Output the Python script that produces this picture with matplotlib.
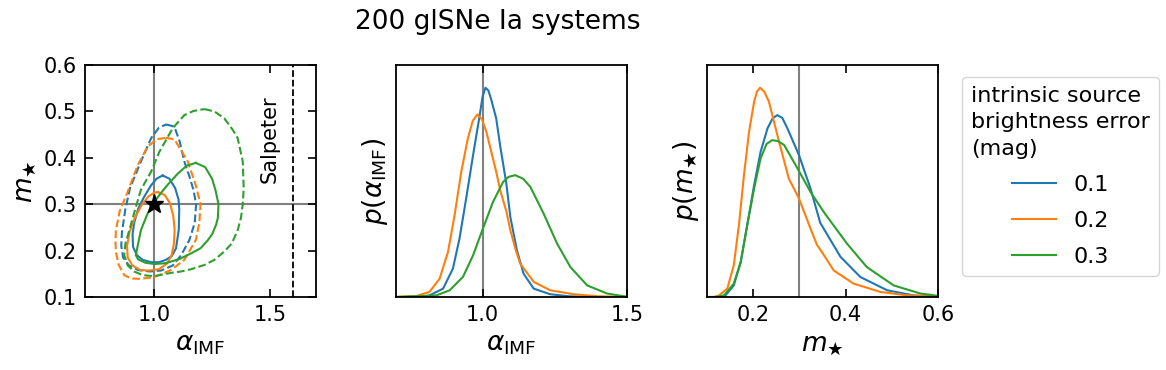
import matplotlib
matplotlib.use("Agg")
import matplotlib.pyplot as plt

# legend / series
errors = ['0.1', '0.2', '0.3']
colors = ['#1f77b4', '#ff7f0e', '#2ca02c']

# true values and Salpeter
alpha_true = 1.0
mstar_true = 0.3
alpha_salpeter = 1.6

# left panel: 68% (solid) and 95% (dashed) contours
blue_in_a = [1.036, 1.065, 1.09, 1.105, 1.108, 1.106, 1.094, 1.075, 1.05, 1.02, 0.986, 0.95, 0.925, 0.908, 0.906, 0.913, 0.93, 0.955, 0.985, 1.01, 1.036]
blue_in_m = [0.362, 0.355, 0.335, 0.31, 0.29, 0.245, 0.205, 0.188, 0.18, 0.175, 0.175, 0.18, 0.19, 0.208, 0.235, 0.26, 0.29, 0.315, 0.34, 0.355, 0.362]
blue_out_a = [1.052, 1.087, 1.11, 1.13, 1.152, 1.17, 1.181, 1.175, 1.152, 1.116, 1.08, 1.03, 0.98, 0.93, 0.89, 0.865, 0.857, 0.86, 0.875, 0.895, 0.942, 0.986, 1.02, 1.052]
blue_out_m = [0.472, 0.467, 0.435, 0.392, 0.36, 0.33, 0.30, 0.26, 0.223, 0.19, 0.168, 0.157, 0.155, 0.158, 0.168, 0.185, 0.21, 0.24, 0.29, 0.335, 0.392, 0.442, 0.465, 0.472]

orange_in_a = [1.015, 1.045, 1.068, 1.082, 1.088, 1.085, 1.075, 1.055, 1.02, 0.98, 0.94, 0.905, 0.885, 0.882, 0.893, 0.915, 0.945, 0.975, 1.0, 1.015]
orange_in_m = [0.326, 0.32, 0.302, 0.275, 0.245, 0.215, 0.19, 0.172, 0.16, 0.157, 0.158, 0.168, 0.185, 0.21, 0.24, 0.27, 0.298, 0.317, 0.325, 0.326]
orange_out_a = [1.05, 1.087, 1.145, 1.18, 1.2, 1.195, 1.18, 1.13, 1.072, 1.0, 0.94, 0.9, 0.87, 0.845, 0.833, 0.832, 0.834, 0.85, 0.885, 0.928, 0.971, 1.01, 1.05]
orange_out_m = [0.443, 0.44, 0.392, 0.34, 0.30, 0.26, 0.223, 0.18, 0.158, 0.143, 0.139, 0.14, 0.147, 0.17, 0.2, 0.223, 0.244, 0.285, 0.327, 0.384, 0.424, 0.44, 0.443]

green_in_a = [1.18, 1.22, 1.25, 1.265, 1.278, 1.275, 1.267, 1.25, 1.231, 1.2, 1.159, 1.11, 1.05, 1.0, 0.96, 0.93, 0.92, 0.93, 0.942, 0.971, 1.0, 1.03, 1.058, 1.1, 1.14, 1.18]
green_in_m = [0.389, 0.38, 0.355, 0.33, 0.30, 0.27, 0.255, 0.235, 0.222, 0.205, 0.194, 0.182, 0.173, 0.171, 0.174, 0.181, 0.19, 0.215, 0.244, 0.28, 0.305, 0.325, 0.342, 0.365, 0.383, 0.389]
green_out_a = [1.217, 1.26, 1.303, 1.34, 1.361, 1.383, 1.387, 1.383, 1.375, 1.361, 1.335, 1.303, 1.26, 1.217, 1.16, 1.116, 1.072, 1.0, 0.95, 0.913, 0.885, 0.87, 0.875, 0.892, 0.915, 0.942, 0.986, 1.022, 1.08, 1.13, 1.17, 1.217]
green_out_m = [0.505, 0.5, 0.485, 0.46, 0.442, 0.392, 0.334, 0.30, 0.27, 0.244, 0.215, 0.198, 0.18, 0.169, 0.16, 0.155, 0.152, 0.145, 0.147, 0.155, 0.168, 0.19, 0.215, 0.244, 0.285, 0.331, 0.37, 0.413, 0.464, 0.492, 0.501, 0.505]

# middle panel: marginal p(alpha_IMF), height as fraction of the axes
blue_alpha_x = [0.70, 0.80, 0.816, 0.863, 0.897, 0.920, 0.943, 0.967, 0.990, 1.000, 1.010, 1.020, 1.030, 1.047, 1.061, 1.082, 1.096, 1.111, 1.119, 1.142, 1.177, 1.234, 1.30, 1.40, 1.50]
blue_alpha_p = [0.0, 0.002, 0.007, 0.036, 0.122, 0.252, 0.425, 0.612, 0.784, 0.865, 0.902, 0.89, 0.85, 0.77, 0.65, 0.49, 0.345, 0.25, 0.2, 0.1, 0.036, 0.012, 0.003, 0.0, 0.0]
orange_alpha_x = [0.70, 0.77, 0.816, 0.851, 0.880, 0.903, 0.926, 0.949, 0.966, 0.982, 0.998, 1.013, 1.047, 1.061, 1.082, 1.096, 1.114, 1.13, 1.177, 1.234, 1.315, 1.40, 1.50]
orange_alpha_p = [0.0, 0.004, 0.022, 0.079, 0.194, 0.353, 0.54, 0.684, 0.76, 0.787, 0.765, 0.712, 0.54, 0.46, 0.37, 0.288, 0.205, 0.144, 0.065, 0.029, 0.012, 0.003, 0.0]
green_alpha_x = [0.70, 0.84, 0.886, 0.932, 0.967, 1.001, 1.036, 1.071, 1.09, 1.113, 1.14, 1.165, 1.211, 1.258, 1.304, 1.362, 1.431, 1.49, 1.50]
green_alpha_p = [0.0, 0.007, 0.029, 0.087, 0.18, 0.295, 0.41, 0.496, 0.518, 0.525, 0.51, 0.475, 0.36, 0.23, 0.129, 0.05, 0.015, 0.003, 0.002]

# right panel: marginal p(m_star)
blue_m_x = [0.10, 0.125, 0.140, 0.158, 0.173, 0.187, 0.202, 0.216, 0.231, 0.242, 0.252, 0.263, 0.274, 0.299, 0.324, 0.345, 0.389, 0.432, 0.49, 0.547, 0.60]
blue_m_p = [0.0, 0.0, 0.007, 0.05, 0.151, 0.309, 0.482, 0.626, 0.727, 0.77, 0.784, 0.772, 0.727, 0.612, 0.468, 0.32, 0.173, 0.086, 0.029, 0.007, 0.002]
orange_m_x = [0.10, 0.115, 0.126, 0.144, 0.158, 0.169, 0.180, 0.191, 0.202, 0.208, 0.215, 0.224, 0.234, 0.256, 0.277, 0.299, 0.324, 0.338, 0.35, 0.374, 0.417, 0.475, 0.533, 0.60]
orange_m_p = [0.0, 0.0, 0.007, 0.036, 0.137, 0.309, 0.525, 0.712, 0.842, 0.885, 0.902, 0.885, 0.842, 0.669, 0.511, 0.425, 0.295, 0.225, 0.19, 0.115, 0.058, 0.022, 0.007, 0.001]
green_m_x = [0.10, 0.12, 0.137, 0.158, 0.173, 0.187, 0.202, 0.216, 0.229, 0.241, 0.254, 0.267, 0.296, 0.324, 0.355, 0.403, 0.446, 0.504, 0.562, 0.60]
green_m_p = [0.0, 0.0, 0.007, 0.058, 0.151, 0.309, 0.468, 0.597, 0.66, 0.676, 0.672, 0.655, 0.554, 0.453, 0.36, 0.23, 0.129, 0.05, 0.015, 0.005]

contours = [(blue_in_a, blue_in_m, blue_out_a, blue_out_m),
            (orange_in_a, orange_in_m, orange_out_a, orange_out_m),
            (green_in_a, green_in_m, green_out_a, green_out_m)]
alpha_pdfs = [(blue_alpha_x, blue_alpha_p), (orange_alpha_x, orange_alpha_p), (green_alpha_x, green_alpha_p)]
m_pdfs = [(blue_m_x, blue_m_p), (orange_m_x, orange_m_p), (green_m_x, green_m_p)]

fig = plt.figure(figsize=(11.66, 3.70), dpi=100)
W, H = 1166, 370
def box(x0, x1, y0, y1):
    return [x0 / W, 1 - y1 / H, (x1 - x0) / W, (y1 - y0) / H]

ax1 = fig.add_axes(box(85, 316, 65, 297))
ax2 = fig.add_axes(box(396, 627, 65, 297))
ax3 = fig.add_axes(box(707, 938, 65, 297))

for ax in (ax1, ax2, ax3):
    ax.tick_params(direction='in', top=True, right=True, length=6, width=1.2, labelsize=15, pad=6)
    for s in ax.spines.values():
        s.set_linewidth(1.3)

mlab = r'$m_\bigstar$'

# left: joint constraints
ax1.axvline(alpha_true, color='grey', lw=1.5, zorder=1)
ax1.axhline(mstar_true, color='grey', lw=1.5, zorder=1)
for (ia, im, oa, om), c in zip(contours, colors):
    ax1.plot(ia, im, color=c, lw=1.5)
    ax1.plot(oa, om, color=c, lw=1.5, ls='--')
ax1.plot(alpha_true, mstar_true, marker='*', color='k', ms=14, zorder=5)
ax1.axvline(alpha_salpeter, color='k', lw=1.3, ls='--')
ax1.text(1.5, 0.44, 'Salpeter', rotation=90, ha='center', va='center', fontsize=15)
ax1.set_xlim(0.7, 1.7)
ax1.set_ylim(0.1, 0.6)
ax1.set_xticks([1.0, 1.5])
ax1.set_yticks([0.1, 0.2, 0.3, 0.4, 0.5, 0.6])
ax1.set_xlabel(r'$\alpha_{\rm IMF}$', fontsize=19)
ax1.set_ylabel(mlab, fontsize=19)

# middle: p(alpha)
ax2.axvline(alpha_true, color='grey', lw=1.5, zorder=1)
for (x, p), c, lab in zip(alpha_pdfs, colors, errors):
    ax2.plot(x, p, color=c, lw=1.5, label=lab)
ax2.set_xlim(0.7, 1.5)
ax2.set_ylim(0, 1)
ax2.set_xticks([1.0, 1.5])
ax2.set_yticks([])
ax2.set_xlabel(r'$\alpha_{\rm IMF}$', fontsize=19)
ax2.set_ylabel(r'$p(\alpha_{\rm IMF})$', fontsize=19)

# right: p(m_star)
ax3.axvline(mstar_true, color='grey', lw=1.5, zorder=1)
for (x, p), c in zip(m_pdfs, colors):
    ax3.plot(x, p, color=c, lw=1.5)
ax3.set_xlim(0.1, 0.6)
ax3.set_ylim(0, 1)
ax3.set_xticks([0.2, 0.4, 0.6])
ax3.set_yticks([])
ax3.set_xlabel(mlab, fontsize=19)
ax3.set_ylabel(r'$p(m_\bigstar)$', fontsize=19)

handles, labels = ax2.get_legend_handles_labels()
leg = fig.legend(handles, labels, title='intrinsic source\nbrightness error\n(mag)',
                 loc='upper left', bbox_to_anchor=(962 / W, 1 - 77 / H), borderaxespad=0,
                 fontsize=16, title_fontsize=16, labelspacing=0.72)
leg.get_title().set_linespacing(1.4)

fig.text(498 / W, 1 - 22 / H, '200 glSNe Ia systems', ha='center', va='center', fontsize=19)

fig.savefig('out.png', dpi=100)
